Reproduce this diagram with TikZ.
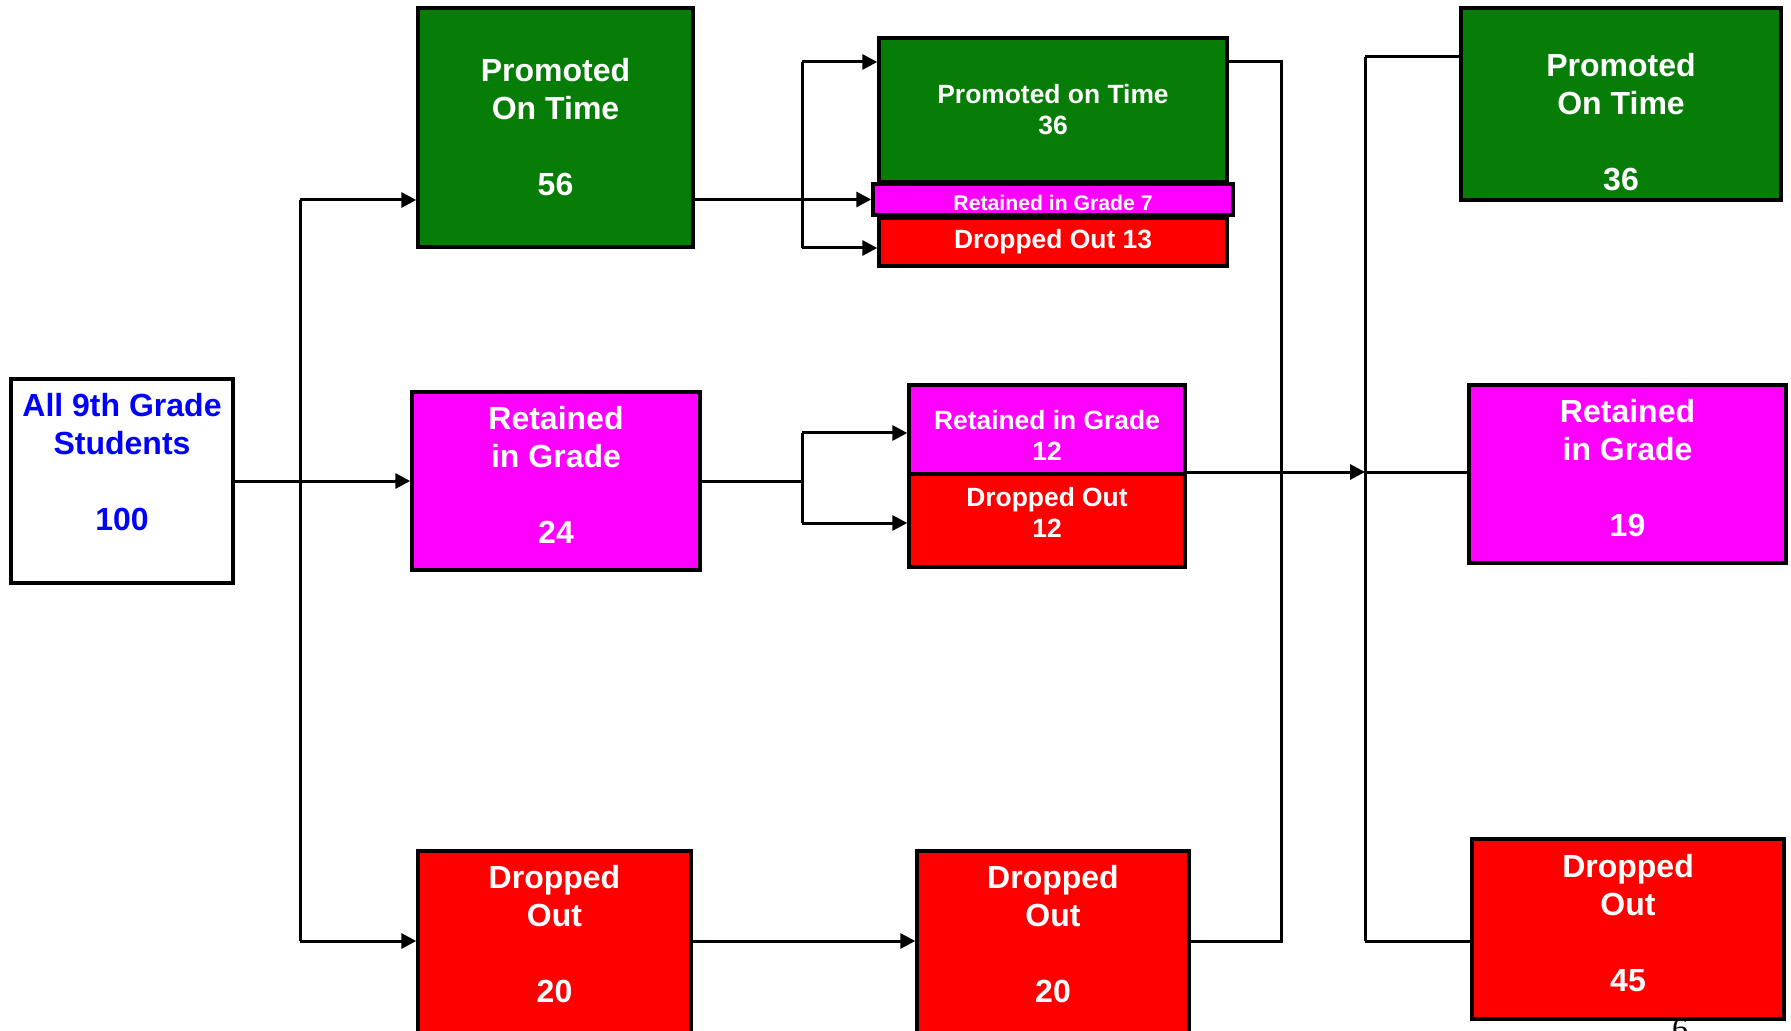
\documentclass[tikz,border=0pt]{standalone}
\usepackage{fontspec}
\setmainfont{Liberation Sans}
\newfontfamily\pagenofont{Liberation Serif}
\usetikzlibrary{arrows.meta,positioning}
\definecolor{GRDGreen}{HTML}{067D06}
\definecolor{GRDMagenta}{HTML}{FF00FF}
\definecolor{GRDRed}{HTML}{FF0000}
\definecolor{GRDBlue}{HTML}{0000FF}
\newcommand{\grdbig}{\fontsize{16}{19}\selectfont\bfseries}
\newcommand{\grdmid}{\fontsize{13.2}{15.5}\selectfont\bfseries}
\newcommand{\grdsmall}{\fontsize{10.6}{12}\selectfont\bfseries}
% invisible struts to push text up or down inside a box
\newcommand{\padabove}[1]{\rule{0pt}{#1}}
\newcommand{\padbelow}[1]{\rule[-#1]{0pt}{#1}}
\tikzset{
grdbox/.style={draw=black, line width=1.7pt, align=center, inner sep=0pt,
  text=white, font=\grdbig},
grdstart/.style={grdbox, fill=white, text=GRDBlue},
grdgreen/.style={grdbox, fill=GRDGreen},
grdpink/.style={grdbox, fill=GRDMagenta},
grdred/.style={grdbox, fill=GRDRed},
grdarrow/.style={-{Triangle[length=7.5pt,width=7.5pt]}, line width=1.5pt},
grdline/.style={line width=1.5pt}
}

\begin{document}
\begin{tikzpicture}[x=0.5pt,y=-0.5pt]
\useasboundingbox (0,0) rectangle (1791,1031);

% first year
\node[grdstart, minimum width=111pt, minimum height=102pt] (all9) at (122,481)
  {All 9th Grade\\Students\\[19pt]100\padbelow{19pt}};
\node[grdgreen, minimum width=137.5pt, minimum height=119.5pt] (promA) at (555.5,127.5)
  {Promoted\\On Time\\[19pt]56};
\node[grdpink, minimum width=144pt, minimum height=89pt] (retA) at (556,481)
  {Retained\\in Grade\\[19pt]24\padbelow{6.5pt}};
\node[grdred, minimum width=136.5pt, minimum height=102pt] (dropA) at (554.5,953)
  {Dropped\\Out\\[19pt]20\padbelow{19pt}};

% second year
\node[grdgreen, minimum width=174pt, minimum height=72pt, font=\grdmid] (promB) at (1053,110)
  {Promoted on Time\\36};
\node[grdpink, minimum width=180pt, minimum height=15.5pt, font=\grdsmall] (retB7) at (1053,199.5)
  {\padabove{11pt}Retained in Grade 7};
\node[grdred, minimum width=174pt, minimum height=24pt, font=\grdmid] (dropB13) at (1053,242)
  {Dropped Out 13};
\node[grdpink, minimum width=138pt, minimum height=44.5pt, font=\grdmid] (retB12) at (1047,429.5)
  {\padabove{15.5pt}Retained in Grade\\12};
\node[grdred, minimum width=138pt, minimum height=46.5pt, font=\grdmid] (dropB12) at (1047,520.5)
  {Dropped Out\\12\padbelow{8pt}};
\node[grdred, minimum width=136pt, minimum height=102pt] (dropB) at (1053,953)
  {Dropped\\Out\\[19pt]20\padbelow{19pt}};

% third year
\node[font=\pagenofont\fontsize{16}{19}\selectfont, anchor=north, inner sep=0pt] (pageno) at (1680,1018) {6};
\node[grdgreen, minimum width=160pt, minimum height=96pt] (promC) at (1621,104)
  {\padabove{30pt}Promoted\\On Time\\[19pt]36};
\node[grdpink, minimum width=158.5pt, minimum height=89pt] (retC) at (1627.5,474)
  {Retained\\in Grade\\[19pt]19\padbelow{6.5pt}};
\node[grdred, minimum width=156pt, minimum height=90pt] (dropC) at (1628,929)
  {Dropped\\Out\\[19pt]45\padbelow{6.5pt}};

\coordinate (tA) at (300,200);
\coordinate (bA) at (300,941);
\coordinate (tB) at (802,62);
\coordinate (bB) at (802,248);
\coordinate (uB) at (802,433);
\coordinate (lB) at (802,523);
\coordinate (tC) at (1281,62);
\coordinate (bC) at (1281,941);
\coordinate (tD) at (1365,57);
\coordinate (mD) at (1365,472);
\coordinate (bD) at (1365,941);

% first split
\draw[grdline] (tA) -- (bA);
\draw[grdarrow] (all9) -- (retA);
\draw[grdarrow] (tA) -- (tA -| promA.west);
\draw[grdarrow] (bA) -- (bA -| dropA.west);

% second split
\draw[grdarrow] (retB7 -| promA.east) -- (retB7);
\draw[grdline] (tB) -- (bB);
\draw[grdarrow] (tB) -- (tB -| promB.west);
\draw[grdarrow] (bB) -- (bB -| dropB13.west);
\draw[grdline] (retA.east) -- (retA.east -| uB);
\draw[grdline] (uB) -- (lB);
\draw[grdarrow] (uB) -- (uB -| retB12.west);
\draw[grdarrow] (lB) -- (lB -| dropB12.west);
\draw[grdarrow] (bA -| dropA.east) -- (bA -| dropB.west);

% third split
\draw[grdline] (tC -| promB.east) -- (tC) -- (bC) -- (bC -| dropB.east);
\draw[grdarrow] (mD -| retB12.east) -- (mD);
\draw[grdline] (tD) -- (bD);
\draw[grdline] (tD) -- (tD -| promC.west);
\draw[grdline] (mD) -- (mD -| retC.west);
\draw[grdline] (bD) -- (bD -| dropC.west);
\end{tikzpicture}
\end{document}
